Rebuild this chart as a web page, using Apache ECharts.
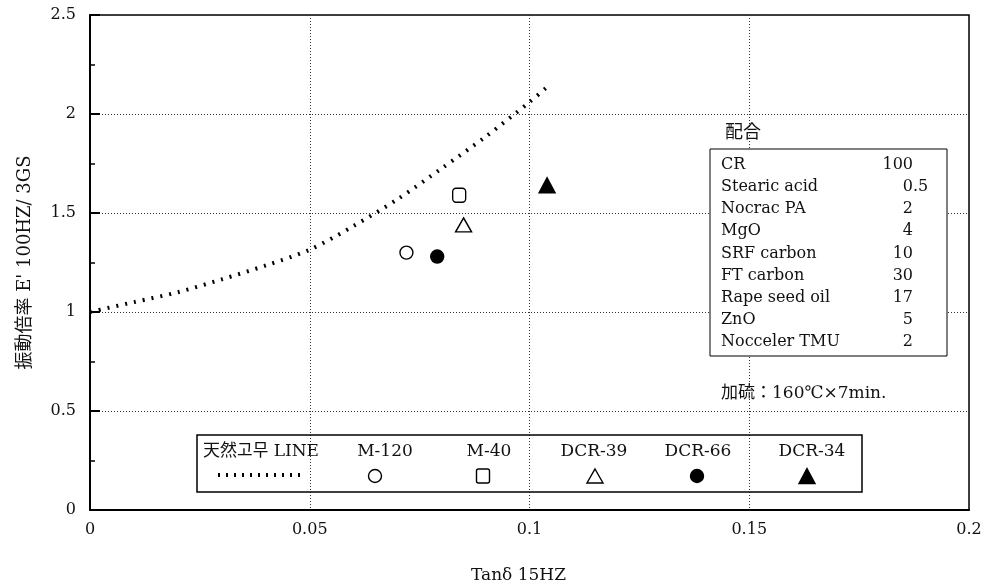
<!DOCTYPE html>
<html>
<head>
<meta charset="utf-8">
<script src="https://cdn.jsdelivr.net/npm/echarts@6.0.0/dist/echarts.min.js"></script>
<style>
html,body{margin:0;padding:0;background:#fff;}
#chart{width:984px;height:586px;}
</style>
</head>
<body>
<div id="chart"></div>
<script>
// ---- data ----
const lineName = '天然고무 LINE';
const curveX = [0, 0.01, 0.02, 0.03, 0.04, 0.05, 0.06, 0.07, 0.08, 0.09, 0.1, 0.104];
const curveY = [1.0, 1.05, 1.10, 1.165, 1.235, 1.315, 1.435, 1.57, 1.725, 1.885, 2.06, 2.136];

const pointNames = ['M-120', 'M-40', 'DCR-39', 'DCR-66', 'DCR-34'];
const pointX = [0.072, 0.084, 0.085, 0.079, 0.104];
const pointY = [1.30, 1.59, 1.44, 1.28, 1.64];

const xTicks = [0, 0.05, 0.1, 0.15, 0.2];
const yTicks = [0, 0.5, 1, 1.5, 2, 2.5];

const formulaTitle = '配合';
const formulaNames = ['CR', 'Stearic acid', 'Nocrac PA', 'MgO', 'SRF carbon', 'FT carbon', 'Rape seed oil', 'ZnO', 'Nocceler TMU'];
const formulaValues = ['100', '0.5', '2', '4', '10', '30', '17', '5', '2'];
const cureNote = '加硫：160℃×7min.';

const xTitle = 'Tanδ 15HZ';
const yTitle = "振動倍率 E' 100HZ/ 3GS";

// ---- styles ----
const FONT = '"DejaVu Serif", "Liberation Serif", "Noto Sans CJK JP", serif';
const symbolStyles = [
  {symbol: 'circle', size: 13, fill: '#fff'},
  {symbol: 'roundRect', size: [13, 14], fill: '#fff'},
  {symbol: 'triangle', size: [16, 14], fill: '#fff'},
  {symbol: 'circle', size: 13, fill: '#000'},
  {symbol: 'triangle', size: [16, 15], fill: '#000'}
];
const curveLine = {color: '#000', width: 4, type: [2, 7]};

const chart = echarts.init(document.getElementById('chart'));

const series = [{
  name: lineName,
  type: 'line',
  smooth: 0.3,
  showSymbol: false,
  data: curveX.map((x, i) => [x, curveY[i]]),
  lineStyle: curveLine,
  z: 3
}];
pointNames.forEach((n, i) => {
  const s = symbolStyles[i];
  series.push({
    name: n,
    type: 'scatter',
    symbol: s.symbol,
    symbolSize: s.size,
    data: [[pointX[i], pointY[i]]],
    itemStyle: {color: s.fill, borderColor: '#000', borderWidth: 1.4, opacity: 1},
    z: 4
  });
});

// ---- legend box (text above symbol) ----
const legendBox = {x: 197, y: 435, w: 665, h: 57};
const legendTextCenters = [385, 489, 594, 698, 812];
const legendSymbolCenters = [375, 483, 595, 697, 807];
const legendEls = [];
legendEls.push({type: 'rect', shape: {x: legendBox.x, y: legendBox.y, width: legendBox.w, height: legendBox.h},
  style: {fill: 'none', stroke: '#000', lineWidth: 1.5}, z: 50});
legendEls.push({type: 'text', x: 203, y: 452, style: {text: lineName, font: '17px ' + FONT, fill: '#111', textVerticalAlign: 'middle', textAlign: 'left'}, z: 51});
legendEls.push({type: 'line', shape: {x1: 218, y1: 475, x2: 304, y2: 475}, style: {stroke: '#000', lineWidth: 4, lineDash: [2, 6]}, z: 51});
pointNames.forEach((n, i) => {
  legendEls.push({type: 'text', x: legendTextCenters[i], y: 452,
    style: {text: n, font: '17px ' + FONT, fill: '#111', textAlign: 'center', textVerticalAlign: 'middle'}, z: 51});
  const s = symbolStyles[i];
  const cx = legendSymbolCenters[i], cy = 476;
  const w = Array.isArray(s.size) ? s.size[0] : s.size;
  const h = Array.isArray(s.size) ? s.size[1] : s.size;
  let el;
  if (s.symbol === 'circle') {
    el = {type: 'circle', shape: {cx: cx, cy: cy, r: w / 2}};
  } else if (s.symbol === 'roundRect') {
    el = {type: 'rect', shape: {x: cx - w / 2, y: cy - h / 2, width: w, height: h, r: 2}};
  } else {
    el = {type: 'polygon', shape: {points: [[cx, cy - h / 2], [cx + w / 2, cy + h / 2], [cx - w / 2, cy + h / 2]]}};
  }
  el.style = {fill: s.fill, stroke: '#000', lineWidth: 1.4};
  el.z = 51;
  legendEls.push(el);
});

// ---- formulation table ----
const table = {x: 710, y: 149, w: 237, h: 207, nameX: 721, valX: 913, row0: 165, rowH: 22.1};
const tableEls = [];
tableEls.push({type: 'text', x: 743, y: 133, style: {text: formulaTitle, font: '18px ' + FONT, fill: '#111', textAlign: 'center', textVerticalAlign: 'middle'}, z: 60});
tableEls.push({type: 'rect', shape: {x: table.x, y: table.y, width: table.w, height: table.h},
  style: {fill: '#fff', stroke: '#000', lineWidth: 1}, z: 60});
formulaNames.forEach((n, i) => {
  const y = table.row0 + table.rowH * i;
  tableEls.push({type: 'text', x: table.nameX, y: y, style: {text: n, font: '16px ' + FONT, fill: '#111', textAlign: 'left', textVerticalAlign: 'middle'}, z: 61});
  const parts = formulaValues[i].split('.');
  tableEls.push({type: 'text', x: table.valX, y: y, style: {text: parts[0], font: '16px ' + FONT, fill: '#111', textAlign: 'right', textVerticalAlign: 'middle'}, z: 61});
  if (parts.length > 1) {
    tableEls.push({type: 'text', x: table.valX, y: y, style: {text: '.' + parts[1], font: '16px ' + FONT, fill: '#111', textAlign: 'left', textVerticalAlign: 'middle'}, z: 61});
  }
});
tableEls.push({type: 'text', x: 721, y: 394, style: {text: cureNote, font: '17px ' + FONT, fill: '#111', textAlign: 'left', textVerticalAlign: 'middle'}, z: 61});

const option = {
  animation: false,
  backgroundColor: '#fff',
  grid: {left: 90, top: 15, right: 15, bottom: 76, show: true, borderColor: '#000', borderWidth: 1.5, backgroundColor: 'transparent', outerBoundsMode: 'none', containLabel: false},
  xAxis: {
    type: 'value', min: xTicks[0], max: xTicks[xTicks.length - 1], interval: xTicks[1] - xTicks[0],
    name: xTitle, nameLocation: 'middle', nameGap: 57,
    nameTextStyle: {fontFamily: FONT, fontSize: 17, color: '#111', padding: [0, 22, 0, 0]},
    axisLine: {show: true, lineStyle: {color: '#000', width: 2}},
    axisTick: {show: false},
    axisLabel: {fontFamily: FONT, fontSize: 16, color: '#111', margin: 12},
    splitLine: {show: true, lineStyle: {color: '#333', width: 1, type: [1, 2]}}
  },
  yAxis: {
    type: 'value', min: yTicks[0], max: yTicks[yTicks.length - 1], interval: yTicks[1] - yTicks[0],
    name: yTitle, nameLocation: 'middle', nameGap: 56, nameRotate: 90,
    nameTextStyle: {fontFamily: FONT, fontSize: 18, color: '#111'},
    axisLine: {show: true, lineStyle: {color: '#000', width: 2}},
    axisTick: {show: true, inside: true, length: 10, lineStyle: {color: '#000', width: 2}},
    minorTick: {show: true, splitNumber: 2, length: 5, lineStyle: {color: '#000', width: 1.5}},
    axisLabel: {fontFamily: FONT, fontSize: 16, color: '#111', margin: 14},
    splitLine: {show: true, lineStyle: {color: '#333', width: 1, type: [1, 2]}}
  },
  series: series,
  graphic: legendEls.concat(tableEls)
};
chart.setOption(option);
</script>
</body>
</html>
